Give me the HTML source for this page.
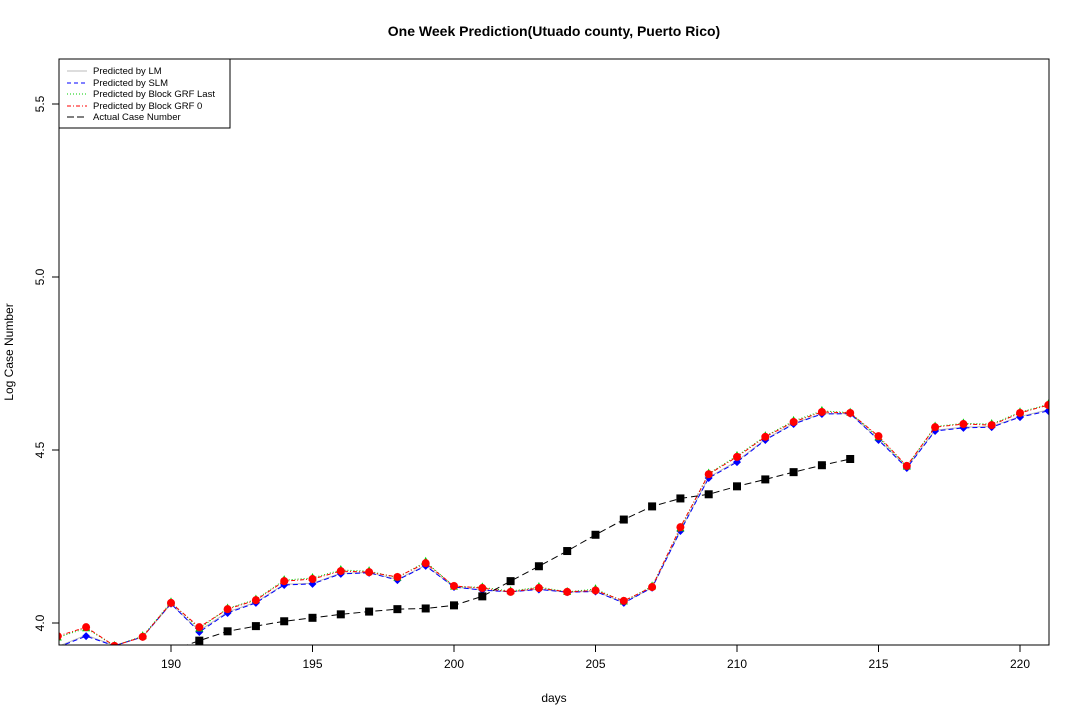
<!DOCTYPE html>
<html><head><meta charset="utf-8"><style>
body{margin:0;background:#fff;font-family:"Liberation Sans",Arial,sans-serif}
</style></head><body>
<svg id="chart" width="1080" height="720" xmlns="http://www.w3.org/2000/svg">
<defs><clipPath id="clip"><rect x="59" y="59" width="990" height="586"/></clipPath></defs>
<rect width="1080" height="720" fill="#fff"/>
<text x="554" y="36" font-size="14" font-weight="bold" text-anchor="middle">One Week Prediction(Utuado county, Puerto Rico)</text>
<text x="554" y="702" font-size="12" text-anchor="middle">days</text>
<text transform="translate(13,352) rotate(-90)" font-size="12" text-anchor="middle">Log Case Number</text>
<g id="axes"></g>
<g id="marks" clip-path="url(#clip)"></g>
<rect x="59" y="59" width="990" height="586" fill="none" stroke="#000"/>
<g>
<rect x="59" y="59" width="171" height="69" fill="#fff" stroke="#000"/>
<line x1="67" x2="87" y1="71" y2="71" stroke="#bbb"/>
<line x1="67" x2="87" y1="83" y2="83" stroke="#00f" stroke-dasharray="4,3"/>
<line x1="67" x2="87" y1="94" y2="94" stroke="#0c0" stroke-dasharray="1,2"/>
<line x1="67" x2="87" y1="106" y2="106" stroke="#f00" stroke-dasharray="4,2,1,2"/>
<line x1="67" x2="87" y1="117" y2="117" stroke="#000" stroke-dasharray="7,3"/>
<g font-size="9.5">
<text x="93" y="74">Predicted by LM</text>
<text x="93" y="86">Predicted by SLM</text>
<text x="93" y="97">Predicted by Block GRF Last</text>
<text x="93" y="109">Predicted by Block GRF 0</text>
<text x="93" y="120">Actual Case Number</text>
</g></g>
</svg>
<script>
const predDays=[186,187,188,189,190,191,192,193,194,195,196,197,198,199,200,201,202,203,204,205,206,207,208,209,210,211,212,213,214,215,216,217,218,219,220,221];
const grf0=[3.962,3.988,3.934,3.96,4.058,3.988,4.04,4.066,4.121,4.127,4.15,4.147,4.133,4.173,4.107,4.101,4.09,4.101,4.09,4.094,4.064,4.104,4.277,4.43,4.48,4.538,4.581,4.61,4.607,4.54,4.454,4.566,4.575,4.572,4.607,4.63];
const grfLast=[3.958,3.985,3.934,3.962,4.06,3.984,4.042,4.068,4.124,4.13,4.153,4.15,4.131,4.177,4.105,4.103,4.092,4.104,4.09,4.098,4.062,4.106,4.274,4.432,4.483,4.54,4.584,4.613,4.608,4.537,4.452,4.568,4.577,4.575,4.609,4.632];
const slm=[3.93,3.962,3.934,3.96,4.056,3.974,4.029,4.058,4.11,4.113,4.142,4.145,4.124,4.165,4.104,4.095,4.09,4.097,4.089,4.091,4.058,4.102,4.266,4.419,4.465,4.529,4.575,4.604,4.605,4.529,4.448,4.555,4.564,4.566,4.595,4.613];
const lm=[3.932,3.965,3.935,3.96,4.055,3.978,4.032,4.06,4.112,4.115,4.144,4.146,4.126,4.167,4.104,4.096,4.09,4.098,4.089,4.092,4.059,4.102,4.268,4.421,4.468,4.531,4.577,4.605,4.605,4.531,4.45,4.557,4.566,4.568,4.597,4.616];
const actualDays=[190,191,192,193,194,195,196,197,198,199,200,201,202,203,204,205,206,207,208,209,210,211,212,213,214];
const actual=[3.92,3.949,3.976,3.991,4.005,4.015,4.025,4.033,4.04,4.042,4.051,4.077,4.121,4.164,4.208,4.255,4.299,4.337,4.36,4.372,4.395,4.415,4.436,4.456,4.474];
const xTicks=[190,195,200,205,210,215,220];
const yTicks=[4.0,4.5,5.0,5.5];
const X=d=>171+(d-190)*(1020-171)/30;
const Y=v=>623-(v-4.0)*346;
const NS="http://www.w3.org/2000/svg";
const axes=document.getElementById('axes'),marks=document.getElementById('marks');
function mk(tag,at,parent){const e=document.createElementNS(NS,tag);for(const k in at)e.setAttribute(k,at[k]);parent.appendChild(e);return e;}
xTicks.forEach(t=>{
 const l=mk('line',{x1:X(t),x2:X(t),y1:645,y2:652,stroke:'#000'},axes);
 
 
 const tx=mk('text',{x:X(t),y:668,'font-size':12,'text-anchor':'middle'},axes);tx.textContent=t;
 
 
});
yTicks.forEach(t=>{
 const l=mk('line',{x1:52,x2:59,y1:Y(t),y2:Y(t),stroke:'#000'},axes);
 
 
 const tx=mk('text',{x:0,y:0,'font-size':12,'text-anchor':'middle',transform:`translate(44,${Y(t)}) rotate(-90)`},axes);tx.textContent=t.toFixed(1);
 
 
});
function series(days,vals,color,dash,name,shape){
 const p=mk('polyline',{points:days.map((d,i)=>X(d)+','+Y(vals[i])).join(' '),fill:'none',stroke:color,'stroke-dasharray':dash},marks);
 
 
 days.forEach((d,i)=>{
  const x=X(d),y=Y(vals[i]);let e;
  if(shape==='circle')e=mk('circle',{cx:x,cy:y,r:4,fill:color},marks);
  else if(shape==='diamond')e=mk('polygon',{points:`${x},${y-4} ${x+4},${y} ${x},${y+4} ${x-4},${y}`,fill:color},marks);
  else if(shape==='tri')e=mk('polygon',{points:`${x},${y-5} ${x+4},${y+3} ${x-4},${y+3}`,fill:color},marks);
  else if(shape==='square')e=mk('rect',{x:x-4,y:y-4,width:8,height:8,fill:color},marks);
  else return;
  
  
 });
}
series(predDays,lm,'#bbb','', 'lm','none');
series(predDays,slm,'#00f','5,3','slm','diamond');
series(predDays,grfLast,'#0c0','1,2','grf-last','tri');
series(predDays,grf0,'#f00','4,2,1,2','grf0','circle');
series(actualDays,actual,'#000','7,4','actual','square');
</script>
</body></html>
